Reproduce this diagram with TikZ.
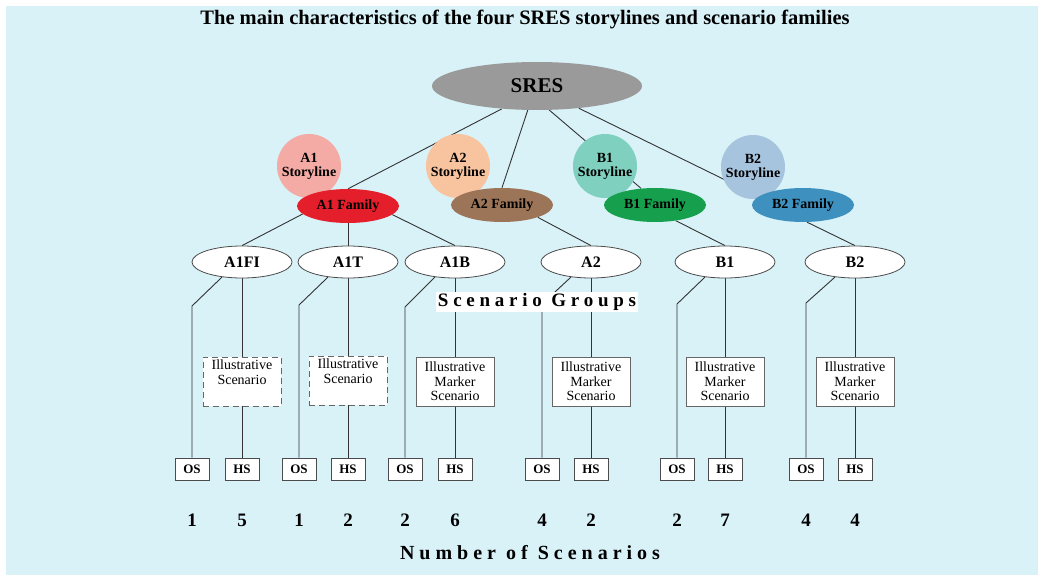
\documentclass[tikz,border=0pt]{standalone}
\usepackage{fontspec}
\setmainfont{Liberation Serif}
\newfontfamily\spacedfont[LetterSpace=25]{Liberation Serif}
\usetikzlibrary{shapes.geometric}
\pgfdeclarelayer{bglayer}
\pgfdeclarelayer{linelayer}
\pgfsetlayers{bglayer,linelayer,main}
\definecolor{bgblue}{HTML}{D8F2F8}
\definecolor{sresgray}{HTML}{9A9A9A}
\definecolor{aonestory}{HTML}{F4ABA5}
\definecolor{atwostory}{HTML}{F8C49F}
\definecolor{bonestory}{HTML}{7FD0BE}
\definecolor{btwostory}{HTML}{A7C4DF}
\definecolor{aonefam}{HTML}{E51E2B}
\definecolor{atwofam}{HTML}{9C7458}
\definecolor{bonefam}{HTML}{16A04E}
\definecolor{btwofam}{HTML}{3E91BF}
\tikzset{
  conn/.style={draw=black!80, line width=0.9pt},
  sresnode/.style={ellipse, fill=sresgray, minimum width=210pt, minimum height=48pt, inner sep=0pt, font=\fontsize{21}{23}\selectfont\bfseries},
  story/.style={circle, minimum size=64pt, inner sep=0pt, align=center, font=\fontsize{14}{14}\selectfont\bfseries},
  fam/.style={ellipse, minimum width=102pt, minimum height=34pt, inner sep=0pt, font=\fontsize{14}{16}\selectfont\bfseries},
  grp/.style={ellipse, draw=black!70, line width=0.8pt, fill=white, minimum width=100pt, minimum height=32pt, inner sep=0pt, font=\fontsize{16}{18}\selectfont\bfseries},
  ill/.style={draw=black!60, line width=0.8pt, fill=white, minimum width=78pt, minimum height=49pt, inner sep=0pt, align=center, font=\fontsize{14}{14.5}\selectfont},
  illd/.style={ill, dash pattern=on 6pt off 4pt},
  sbox/.style={draw=black!70, line width=0.8pt, fill=white, minimum width=34pt, minimum height=22pt, inner sep=0pt, font=\fontsize{13}{13}\selectfont\bfseries},
  num/.style={font=\fontsize{19}{19}\selectfont\bfseries},
  biglabel/.style={font=\fontsize{19}{21}\selectfont\bfseries\spacedfont},
}
\begin{document}
\begin{tikzpicture}[x=1pt,y=-1pt]
\useasboundingbox (0,0) rectangle (1038,575);
\begin{pgfonlayer}{bglayer}
\fill[bgblue] (6,6) rectangle (1038,575);
\end{pgfonlayer}

\node[font=\fontsize{20.5}{22}\selectfont\bfseries, anchor=base, inner sep=0pt] (title) at (525,25) {The main characteristics of the four SRES storylines and scenario families};

\node[sresnode] (sres) at (537,86) {SRES};

\node[story, fill=aonestory] (a1s) at (309,166) {A1\\Storyline};
\node[story, fill=atwostory] (a2s) at (458,166) {A2\\Storyline};
\node[story, fill=bonestory] (b1s) at (605,166) {B1\\Storyline};
\node[story, fill=btwostory] (b2s) at (753,167) {B2\\Storyline};

\node[fam, fill=aonefam] (a1f) at (348,206) {A1 Family};
\node[fam, fill=atwofam] (a2f) at (502,205) {A2 Family};
\node[fam, fill=bonefam] (b1f) at (655,205) {B1 Family};
\node[fam, fill=btwofam] (b2f) at (803,205) {B2 Family};

\node[grp] (ga1fi) at (242,262) {A1FI};
\node[grp] (ga1t) at (348,262) {A1T};
\node[grp] (ga1b) at (455,262) {A1B};
\node[grp] (ga2) at (591,262) {A2};
\node[grp] (gb1) at (725,262) {B1};
\node[grp] (gb2) at (855,262) {B2};

\node[illd] (i1) at (242,381.5) {Illustrative\\Scenario\\\strut};
\node[illd] (i2) at (348,380.5) {Illustrative\\Scenario\\\strut};
\node[ill] (i3) at (455,381.5) {Illustrative\\Marker\\Scenario};
\node[ill] (i4) at (591,381.5) {Illustrative\\Marker\\Scenario};
\node[ill] (i5) at (725,381.5) {Illustrative\\Marker\\Scenario};
\node[ill] (i6) at (855,381.5) {Illustrative\\Marker\\Scenario};

\foreach \n/\xl/\xr in {1/192/242, 2/299/348, 3/405/455, 4/542/591, 5/677/725, 6/806/855}{
  \node[sbox] (os\n) at (\xl,469) {OS};
  \node[sbox] (hs\n) at (\xr,469) {HS};
}

\coordinate (k1) at (192,306);
\coordinate (k2) at (299,305);
\coordinate (k3) at (405,307);
\coordinate (k4) at (542,304);
\coordinate (k5) at (677,304);
\coordinate (k6) at (806,303);

\node[biglabel, fill=white, inner xsep=2pt, inner ysep=1pt, minimum height=20pt] (sg) at (537,302) {Scenario Groups};

\foreach \n/\x/\v in {1/192/1, 2/242/5, 3/299/1, 4/348/2, 5/405/2, 6/455/6, 7/542/4, 8/591/2, 9/677/2, 10/725/7, 11/806/4, 12/855/4}{
  \node[num] (n\n) at (\x,520) {\v};
}
\node[biglabel, font=\fontsize{20}{22}\selectfont\bfseries\spacedfont] (nos) at (530,553) {Number of Scenarios};

\begin{pgfonlayer}{linelayer}
\draw[conn] (sres.213) -- (a1f.north);
\draw[conn] (sres.249) -- (a2f.north);
\draw[conn] (sres.297) -- (b1f.130);
\draw[conn] (sres.332) -- (b2f.169);
\draw[conn] (a1f.190) -- (ga1fi.north);
\draw[conn] (a1f.south) -- (ga1t.north);
\draw[conn] (a1f.349) -- (ga1b.north);
\draw[conn] (a2f.341) -- (ga2.north);
\draw[conn] (b1f.323) -- (gb1.north);
\draw[conn] (b2f.283) -- (gb2.north);
\draw[conn] (ga1fi.217) -- (k1) -- (os1.north);
\draw[conn] (ga1t.217) -- (k2) -- (os2.north);
\draw[conn] (ga1b.217) -- (k3) -- (os3.north);
\draw[conn] (ga2.217) -- (k4) -- (os4.north);
\draw[conn] (gb1.217) -- (k5) -- (os5.north);
\draw[conn] (gb2.217) -- (k6) -- (os6.north);
\draw[conn] (ga1fi.south) -- (i1.north) (i1.south) -- (hs1.north);
\draw[conn] (ga1t.south) -- (i2.north) (i2.south) -- (hs2.north);
\draw[conn] (ga1b.south) -- (i3.north) (i3.south) -- (hs3.north);
\draw[conn] (ga2.south) -- (i4.north) (i4.south) -- (hs4.north);
\draw[conn] (gb1.south) -- (i5.north) (i5.south) -- (hs5.north);
\draw[conn] (gb2.south) -- (i6.north) (i6.south) -- (hs6.north);
\end{pgfonlayer}
\end{tikzpicture}
\end{document}
